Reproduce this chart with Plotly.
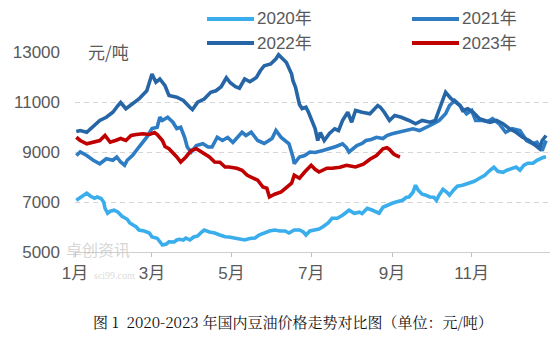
import plotly.graph_objects as go

# Trading-day positions (day of year) and domestic soybean oil prices, 元/吨
days_2020 = [2, 4, 8, 10, 13, 16, 18, 21, 23, 24, 26, 28, 31, 34, 37, 41, 43, 46, 48, 50,
             54, 58, 60, 64, 66, 68, 71, 73, 77, 79, 81, 84, 86, 89, 92, 95, 97, 100, 104, 108,
             112, 116, 119, 123, 127, 131, 135, 139, 142, 146, 150, 154, 158, 162, 165, 169, 173, 176, 178, 181,
             185, 188, 191, 195, 198, 202, 206, 209, 211, 215, 219, 221, 225, 229, 232, 234, 237, 240, 244, 247,
             252, 255, 257, 260, 262, 264, 267, 270, 273, 276, 278, 280, 283, 286, 288, 291, 294, 298, 300, 303,
             307, 311, 315, 319, 322, 325, 329, 332, 335, 339, 342, 345, 348, 352, 355, 358, 360, 362]
price_2020 = [7070, 7150, 7270, 7350, 7230, 7150, 7200, 7140, 6990, 6750, 6550, 6630, 6670, 6590, 6430, 6310, 6160, 6080, 6000, 5880,
              5840, 5760, 5600, 5550, 5400, 5280, 5320, 5410, 5400, 5480, 5510, 5480, 5560, 5480, 5600, 5640, 5750, 5880, 5800, 5760,
              5680, 5610, 5600, 5560, 5520, 5480, 5540, 5560, 5680, 5760, 5840, 5880, 5840, 5840, 5760, 5880, 5880, 5800, 5680, 5840,
              5880, 5920, 6010, 6160, 6350, 6350, 6470, 6590, 6670, 6550, 6590, 6540, 6750, 6670, 6610, 6550, 6790, 6870, 6950, 7000,
              7070, 7190, 7200, 7390, 7670, 7470, 7310, 7270, 7200, 7190, 7070, 7270, 7510, 7390, 7270, 7470, 7630, 7670, 7710, 7750,
              7830, 7950, 8070, 8270, 8390, 8230, 8190, 8270, 8310, 8400, 8270, 8470, 8550, 8550, 8670, 8750, 8790, 8800]

days_2021 = [2, 5, 10, 15, 20, 25, 30, 33, 36, 39, 41, 45, 50, 56, 60, 64, 66, 68, 72, 76,
             79, 82, 85, 87, 90, 94, 99, 103, 106, 110, 114, 118, 122, 126, 129, 132, 136, 141, 146, 152,
             155, 159, 162, 165, 168, 169, 173, 177, 181, 185, 191, 196, 201, 206, 209, 211, 217, 221, 224, 228,
             232, 237, 240, 244, 248, 252, 256, 260, 265, 269, 273, 276, 280, 285, 288, 292, 296, 301, 305, 308,
             313, 317, 321, 326, 331, 336, 342, 347, 352, 355, 359, 362]
price_2021 = [8860, 9000, 8860, 8670, 8530, 8730, 8670, 8800, 8600, 8470, 8670, 8860, 9200, 9590, 9940, 9990, 10390, 10260, 10390, 10190,
              9940, 9990, 9590, 9200, 9000, 9260, 9330, 9200, 9200, 9590, 9460, 9580, 9380, 9590, 9790, 9660, 9790, 9460, 9340, 9540,
              9860, 9580, 9460, 9330, 8800, 8530, 8800, 8860, 9000, 8980, 9060, 9130, 9220, 9330, 9180, 9000, 9260, 9340, 9460, 9500,
              9590, 9540, 9660, 9730, 9780, 9860, 9900, 9930, 9860, 9980, 10060, 10140, 10260, 10530, 10860, 11060, 10860, 10530, 10660, 10260,
              10260, 10220, 10330, 10130, 9790, 9930, 9860, 9460, 9330, 9390, 9060, 9460]

days_2022 = [2, 5, 10, 14, 20, 25, 30, 34, 36, 40, 45, 50, 56, 58, 60, 63, 66, 70, 73, 79,
             84, 89, 91, 95, 100, 105, 109, 113, 117, 120, 124, 127, 131, 135, 140, 143, 146, 151, 155, 157,
             160, 163, 167, 168, 170, 173, 175, 178, 180, 182, 185, 187, 189, 192, 196, 200, 203, 206, 210, 213,
             216, 221, 227, 233, 235, 238, 242, 246, 251, 257, 262, 267, 273, 277, 282, 285, 289, 293, 296, 298,
             302, 306, 311, 315, 319, 324, 329, 334, 339, 344, 349, 354, 357, 359, 362]
price_2022 = [9820, 9860, 9790, 9990, 10260, 10390, 10590, 10860, 10980, 10730, 10920, 11120, 11450, 11850, 12120, 11790, 11920, 11650, 11260, 11190,
              11060, 10790, 10700, 10990, 11120, 11390, 11450, 11610, 11970, 11770, 11610, 11550, 11920, 11810, 11980, 12250, 12450, 12520, 12730, 12890,
              12730, 12580, 12120, 11850, 11590, 10900, 10740, 10790, 10580, 10340, 9940, 9460, 9780, 9460, 9740, 9930, 9860, 10260, 10590, 10190,
              10660, 10590, 10530, 10860, 10790, 10590, 10260, 10460, 10390, 10260, 10130, 10260, 10190, 10260, 10940, 11390, 11140, 10990, 10860, 10660,
              10730, 10590, 10330, 10260, 10190, 10260, 10130, 9930, 9790, 9590, 9460, 9260, 9130, 9460, 9660]

days_2023 = [2, 5, 10, 14, 20, 24, 28, 32, 36, 40, 44, 48, 53, 58, 62, 64, 68, 70, 73, 79,
             82, 86, 90, 94, 99, 104, 108, 112, 116, 119, 125, 129, 133, 137, 141, 145, 148, 150, 154, 159,
             164, 167, 169, 173, 177, 182, 185, 188, 194, 198, 204, 209, 213, 216, 222, 227, 232, 234, 237, 240,
             242, 245, 247, 250]
price_2023 = [9590, 9460, 9330, 9380, 9460, 9660, 9390, 9460, 9540, 9460, 9660, 9700, 9730, 9700, 9780, 9700, 9460, 9220, 9130, 8800,
              8600, 8800, 9060, 9130, 8980, 8800, 8600, 8590, 8400, 8400, 8350, 8270, 8070, 7950, 7870, 7600, 7550, 7200, 7310, 7400,
              7600, 7750, 8070, 7950, 8200, 8470, 8310, 8200, 8350, 8350, 8390, 8470, 8430, 8400, 8510, 8710, 8860, 8980, 9130, 9170,
              9100, 8930, 8860, 8800]

series = [
    ("2020年", days_2020, price_2020, "#3AAEEC"),
    ("2021年", days_2021, price_2021, "#2E7DC4"),
    ("2022年", days_2022, price_2022, "#2766A6"),
    ("2023年", days_2023, price_2023, "#C00000"),
]

month_ticks = [1, 60, 121, 182, 244, 305]
month_labels = ["1月", "3月", "5月", "7月", "9月", "11月"]
y_ticks = [5000, 7000, 9000, 11000, 13000]
y_labels = ["5000", "7000", "9000", "11000", "13000"]

W, H = 557, 349
ML, MR, MT, MB = 75, 7, 52, 97
PW, PH = W - ML - MR, H - MT - MB

def px(x):
    return (x - ML) / PW

def py(y):
    return (H - MB - y) / PH

FONT = "Liberation Sans, Noto Sans CJK SC, sans-serif"
GREY = "#595959"

fig = go.Figure()
for name, d, p, color in series:
    fig.add_trace(go.Scatter(x=d, y=p, mode="lines", name=name,
                             line=dict(color=color, width=3.6), showlegend=False))

# Two-row legend drawn above the plot area
shapes = []
annotations = []
legend_slots = [(207, 19), (412, 19), (207, 43), (412, 43)]
for (name, _, _, color), (lx, ly) in zip(series, legend_slots):
    shapes.append(dict(type="line", xref="paper", yref="paper",
                       x0=px(lx), x1=px(lx + 47), y0=py(ly), y1=py(ly),
                       line=dict(color=color, width=3.8)))
    annotations.append(dict(text=name, xref="paper", yref="paper",
                            x=px(lx + 48), y=py(ly), xanchor="left", yanchor="middle",
                            showarrow=False, font=dict(family=FONT, size=17, color=GREY)))

# Unit label on the top gridline
annotations.append(dict(text="元/吨", xref="paper", yref="paper", x=px(86), y=py(51),
                        xanchor="left", yanchor="middle", showarrow=False, bgcolor="white",
                        font=dict(family="Noto Sans CJK SC", size=17, color=GREY)))

# Source watermark
annotations.append(dict(text="卓创资讯", xref="paper", yref="paper", x=px(64), y=py(249),
                        xanchor="left", yanchor="middle", showarrow=False,
                        font=dict(family="Noto Sans CJK SC", size=16, color="rgba(180,180,180,0.55)")))
annotations.append(dict(text="sci99.com", xref="paper", yref="paper", x=px(92), y=py(275),
                        xanchor="left", yanchor="middle", showarrow=False,
                        font=dict(family="Liberation Serif", size=10, color="rgba(180,180,180,0.5)")))

# Figure caption
annotations.append(dict(text="图 1  2020-2023 年国内豆油价格走势对比图（单位：元/吨）",
                        xref="paper", yref="paper", x=px(293), y=py(321),
                        xanchor="center", yanchor="middle", showarrow=False,
                        font=dict(family="Noto Serif CJK SC, Noto Sans CJK SC", size=15, color="#111111")))

fig.update_layout(
    width=W, height=H,
    margin=dict(l=ML, r=MR, t=MT, b=MB, pad=0),
    paper_bgcolor="white", plot_bgcolor="white",
    shapes=shapes, annotations=annotations,
    font=dict(family=FONT, size=17, color=GREY),
    xaxis=dict(range=[1, 365], tickmode="array", tickvals=month_ticks, ticktext=month_labels,
               showgrid=False, zeroline=False, showline=True, linecolor="#D0D0D0", linewidth=1,
               ticks="outside", ticklen=4, tickcolor="#BFBFBF", tickwidth=1,
               tickfont=dict(family=FONT, size=17, color=GREY), ticklabelstandoff=2),
    yaxis=dict(range=[5000, 13000], tickmode="array", tickvals=y_ticks, ticktext=y_labels,
               showgrid=True, gridcolor="#D6D6D6", gridwidth=1, griddash="5px,4px",
               zeroline=False, showline=False, ticks="",
               tickfont=dict(family=FONT, size=17, color=GREY), ticklabelstandoff=14),
)

fig.write_html("out.html")
